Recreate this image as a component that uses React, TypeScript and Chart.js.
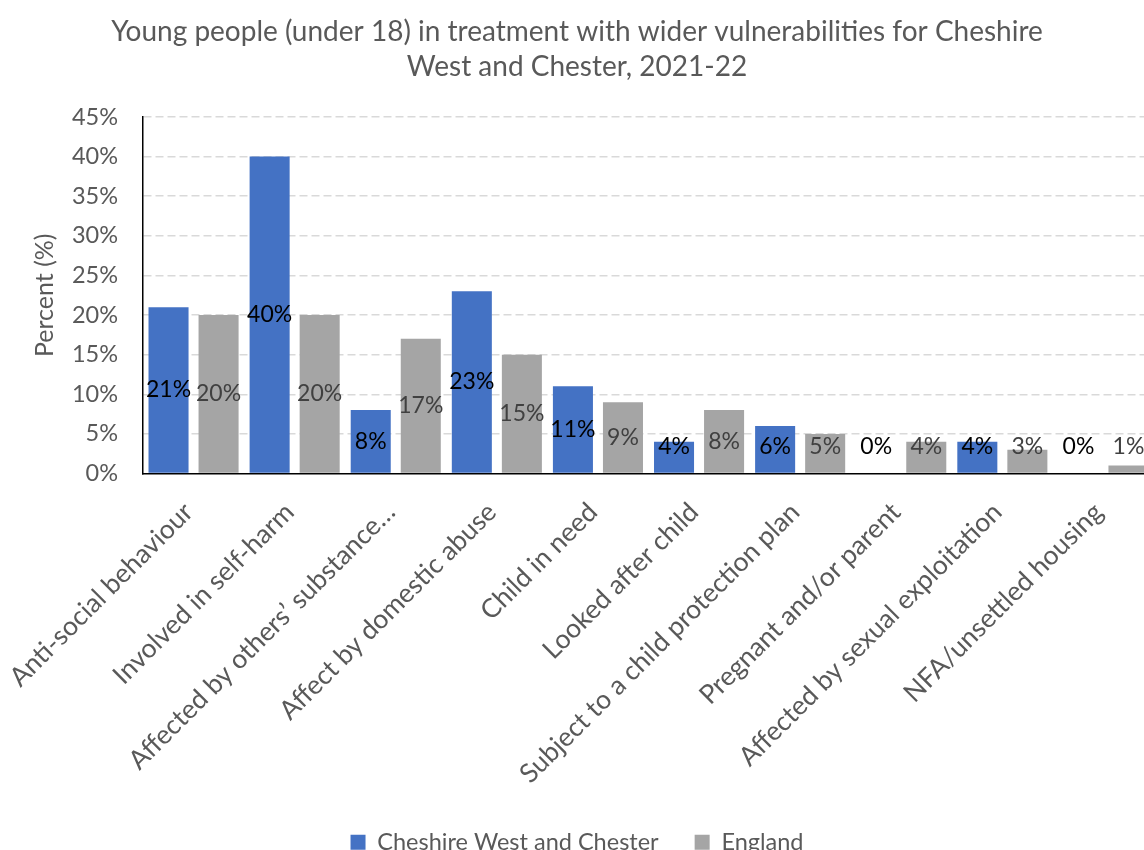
import { useEffect, useRef } from "react";
import { Chart, registerables } from "chart.js";

Chart.register(...registerables);

const categories = [
  "Anti-social behaviour",
  "Involved in self-harm",
  "Affected by others’ substance…",
  "Affect by domestic abuse",
  "Child in need",
  "Looked after child",
  "Subject to a child protection plan",
  "Pregnant and/or parent",
  "Affected by sexual exploitation",
  "NFA/unsettled housing",
];

const cheshireValues = [21, 40, 8, 23, 11, 4, 6, 0, 4, 0];
const englandValues = [20, 20, 17, 15, 9, 8, 5, 4, 3, 1];

const yMin = 0;
const yMax = 45;
const yStep = 5;

const titleLines = [
  "Young people (under 18) in treatment with wider vulnerabilities for Cheshire",
  "West and Chester, 2021-22",
];

const FONT = "Lato";
const TEXT_GREY = "#595959";
const BLUE = "#4472C4";
const GREY = "#A5A5A5";

const CANVAS_W = 1166;
const CANVAS_H = 870;
const PLOT_LEFT = 143;
const X_AXIS_HEIGHT = 321;

// Value labels drawn in the middle of each bar, kept clear of the axis line.
const barValueLabels = {
  id: "barValueLabels",
  afterDatasetsDraw(chart: any) {
    const { ctx, chartArea } = chart;
    ctx.save();
    ctx.font = `23px ${FONT}`;
    ctx.textAlign = "center";
    ctx.textBaseline = "middle";
    chart.data.datasets.forEach((ds: any, di: number) => {
      const meta = chart.getDatasetMeta(di);
      meta.data.forEach((bar: any, i: number) => {
        const v = ds.data[i];
        const { x, y, base } = bar.getProps(["x", "y", "base"], true);
        const cy = Math.min((y + base) / 2, chartArea.bottom - 27);
        ctx.fillStyle = di === 0 ? "#000000" : "#404040";
        ctx.fillText(`${v}%`, x, cy);
      });
    });
    ctx.restore();
  },
};

export default function App() {
  const canvasRef = useRef<HTMLCanvasElement | null>(null);

  useEffect(() => {
    if (!canvasRef.current) return;
    const chart = new Chart(canvasRef.current, {
      type: "bar",
      data: {
        labels: categories,
        datasets: [
          {
            label: "Cheshire West and Chester",
            data: cheshireValues,
            backgroundColor: BLUE,
            categoryPercentage: 0.99,
            barPercentage: 0.8,
          },
          {
            label: "England",
            data: englandValues,
            backgroundColor: GREY,
            categoryPercentage: 0.99,
            barPercentage: 0.8,
          },
        ],
      },
      options: {
        responsive: false,
        animation: false,
        layout: { padding: { left: 0, right: 12, top: 0, bottom: 6 } },
        plugins: {
          title: {
            display: true,
            text: titleLines,
            color: TEXT_GREY,
            font: { family: FONT, size: 28, weight: "normal", lineHeight: 35 / 28 },
            padding: { top: 14, bottom: 33 },
          },
          legend: {
            display: true,
            position: "bottom",
            labels: {
              color: TEXT_GREY,
              font: { family: FONT, size: 23.5 },
              boxWidth: 15,
              boxHeight: 15,
              padding: 36,
            },
          },
          tooltip: { enabled: false },
        },
        scales: {
          x: {
            grid: { display: false, drawTicks: false },
            border: { display: true, color: "#000000", width: 1.5 },
            ticks: {
              color: TEXT_GREY,
              font: { family: FONT, size: 26.5 },
              minRotation: 45,
              maxRotation: 45,
              autoSkip: false,
              padding: 23,
              labelOffset: -5,
            },
            afterFit(scale: any) {
              scale.height = X_AXIS_HEIGHT;
              scale.paddingLeft = 0;
              scale.paddingRight = 0;
            },
          },
          y: {
            min: yMin,
            max: yMax,
            ticks: {
              stepSize: yStep,
              color: TEXT_GREY,
              font: { family: FONT, size: 23.5 },
              padding: 25,
              callback: (v: any) => `${v}%`,
            },
            grid: {
              drawTicks: false,
              lineWidth: 1.5,
              color: (ctx: any) =>
                ctx.tick && ctx.tick.value === 0 ? "rgba(0,0,0,0)" : "#D9D9D9",
            },
            border: { display: true, color: "#000000", width: 1.5, dash: [8, 4] },
            title: {
              display: true,
              text: "Percent (%)",
              color: TEXT_GREY,
              font: { family: FONT, size: 25 },
              padding: { top: 30, bottom: 0 },
            },
            afterFit(scale: any) {
              scale.width = PLOT_LEFT;
            },
          },
        },
      },
      plugins: [barValueLabels],
    });
    return () => chart.destroy();
  }, []);

  return (
    <div
      style={{
        position: "fixed",
        left: 0,
        top: 0,
        width: 1144,
        height: 850,
        overflow: "hidden",
        background: "#ffffff",
      }}
    >
      <canvas
        ref={canvasRef}
        width={CANVAS_W}
        height={CANVAS_H}
        style={{ display: "block", width: CANVAS_W, height: CANVAS_H }}
      />
    </div>
  );
}
